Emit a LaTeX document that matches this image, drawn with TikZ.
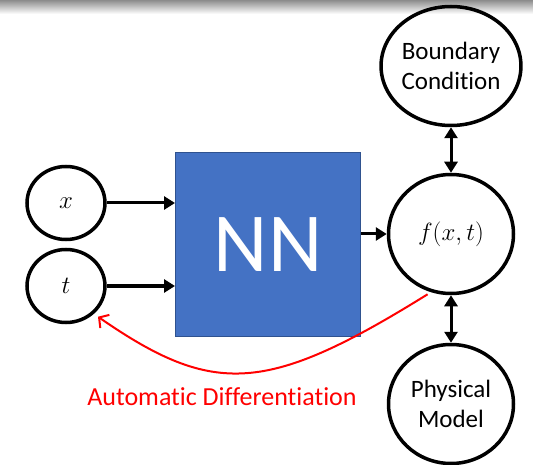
\documentclass[tikz,border=0pt]{standalone}
\usepackage{fontspec}
\setmainfont{Carlito}[Ligatures={NoCommon,NoRequired,NoContextual}]
\usetikzlibrary{arrows.meta,shapes.geometric}
\definecolor{nnblue}{HTML}{4472C4}
\definecolor{nnedge}{HTML}{2F528F}
\definecolor{adred}{HTML}{FF0000}

\begin{document}
\begin{tikzpicture}[x=1pt,y=-1pt,
  bubble/.style={ellipse,draw,line width=3.5pt,minimum width=125pt,minimum height=119pt,inner sep=0pt,align=center,font=\fontsize{25}{30}\selectfont},
  inbubble/.style={bubble,minimum width=78pt,minimum height=73pt},
  flow/.style={line width=3pt,-{Triangle[length=11pt,width=13pt]}},
  both/.style={line width=3pt,{Triangle[length=11pt,width=13pt]}-{Triangle[length=11pt,width=13pt]}}]
\useasboundingbox (0,0) rectangle (533,465);
\shade[top color=black!45,bottom color=white] (0,0) rectangle (533,14);
\node[bubble] (bc) at (451,66) {Boundary\\Condition};
\node[bubble,font=\fontsize{30}{34}\selectfont] (f) at (451,234) {$f(x,t)$};
\node[bubble] (pm) at (451,404) {Physical\\Model};
\node[inbubble,font=\fontsize{30}{34}\selectfont] (x) at (66,203) {$x$};
\node[inbubble,font=\fontsize{30}{34}\selectfont] (t) at (66,286) {$t$};
\node[draw=nnedge,fill=nnblue,line width=1pt,minimum width=185pt,minimum height=184pt,text=white,font=\fontsize{84}{84}\selectfont] (nn) at (268,244.5) {NN};
\draw[flow] (x.east) -- (x.east -| nn.west);
\draw[flow] (t.east) -- (t.east -| nn.west);
\draw[flow] (nn.east |- f.west) -- (f.west);
\draw[both] (bc) -- (f);
\draw[both] (f) -- (pm);
\draw[adred,line width=2pt,shorten <=4pt,shorten >=5pt,-{Straight Barb[length=7pt,width=16pt]}] (f.251) .. controls (267,394) and (214,397) .. (t.315);
\node[text=adred,font=\fontsize{26}{30}\selectfont] (ad) at (222,397) {Automatic Differentiation};
\end{tikzpicture}
\end{document}
